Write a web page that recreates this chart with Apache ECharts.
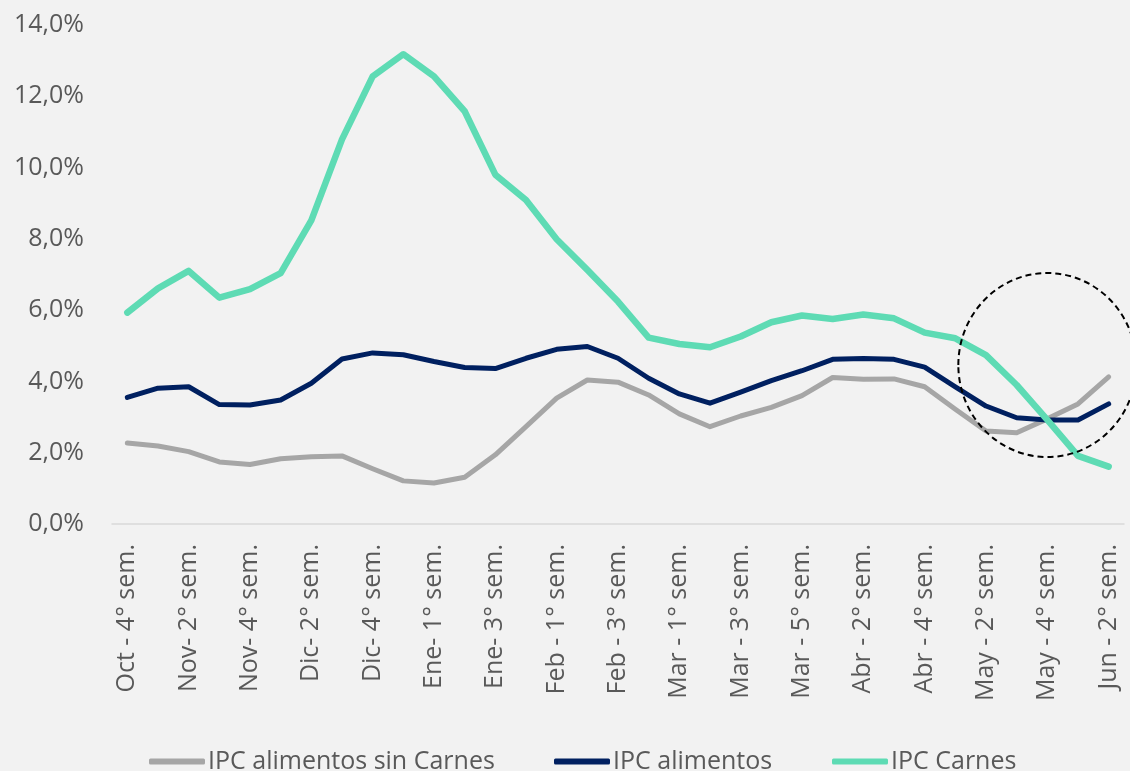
<!DOCTYPE html>
<html>
<head>
<meta charset="utf-8">
<script src="https://cdn.jsdelivr.net/npm/echarts@6/dist/echarts.min.js"></script>
<style>
html,body{margin:0;padding:0;background:#F2F2F2;}
#chart{width:1130px;height:771px;}
</style>
</head>
<body>
<div id="chart"></div>
<script>
const categories = [
  'Oct - 4° sem.','Nov- 1° sem.','Nov- 2° sem.','Nov- 3° sem.','Nov- 4° sem.',
  'Dic- 1° sem.','Dic- 2° sem.','Dic- 3° sem.','Dic- 4° sem.','Dic- 5° sem.',
  'Ene- 1° sem.','Ene- 2° sem.','Ene- 3° sem.','Ene- 4° sem.',
  'Feb - 1° sem.','Feb - 2° sem.','Feb - 3° sem.','Feb - 4° sem.',
  'Mar - 1° sem.','Mar - 2° sem.','Mar - 3° sem.','Mar - 4° sem.','Mar - 5° sem.',
  'Abr - 1° sem.','Abr - 2° sem.','Abr - 3° sem.','Abr - 4° sem.',
  'May - 1° sem.','May - 2° sem.','May - 3° sem.','May - 4° sem.',
  'Jun - 1° sem.','Jun - 2° sem.'
];
const ipcSinCarnes = [2.27, 2.19, 2.03, 1.74, 1.67, 1.83, 1.89, 1.91, 1.55, 1.21, 1.15, 1.31, 1.94, 2.73, 3.53, 4.04, 3.98, 3.62, 3.09, 2.73, 3.03, 3.27, 3.60, 4.11, 4.06, 4.07, 3.85, 3.22, 2.61, 2.56, 2.95, 3.37, 4.13];
const ipcAlimentos = [3.55, 3.81, 3.85, 3.35, 3.34, 3.48, 3.95, 4.63, 4.80, 4.75, 4.56, 4.39, 4.36, 4.65, 4.90, 4.98, 4.65, 4.09, 3.65, 3.39, 3.70, 4.02, 4.30, 4.62, 4.64, 4.62, 4.40, 3.85, 3.31, 2.98, 2.92, 2.92, 3.37];
const ipcCarnes = [5.93, 6.61, 7.10, 6.35, 6.59, 7.04, 8.52, 10.79, 12.56, 13.18, 12.56, 11.58, 9.80, 9.09, 7.99, 7.13, 6.24, 5.23, 5.05, 4.96, 5.26, 5.66, 5.85, 5.75, 5.88, 5.77, 5.37, 5.21, 4.74, 3.90, 2.92, 1.91, 1.61];
const seriesNames = ['IPC alimentos sin Carnes', 'IPC alimentos', 'IPC Carnes'];
const seriesColors = ['#A6A6A6', '#002060', '#5EDBB4'];

const FONT = '"Open Sans", sans-serif';
const TXT = '#595959';

const chart = echarts.init(document.getElementById('chart'), null, {renderer: 'canvas'});

function legendFor(name, left) {
  return {
    data: [name], left: left, top: 744, icon: 'roundRect',
    itemWidth: 56, itemHeight: 6, itemGap: 0,
    textStyle: {color: TXT, fontSize: 25, fontFamily: FONT, padding: [0, 0, 0, -2]}
  };
}

const option = {
  backgroundColor: '#F2F2F2',
  animation: false,
  grid: {left: 112, right: 6, top: 25, bottom: 247, containLabel: false},
  legend: [
    legendFor(seriesNames[0], 144),
    legendFor(seriesNames[1], 549),
    legendFor(seriesNames[2], 827)
  ],
  xAxis: {
    type: 'category', data: categories, boundaryGap: true,
    axisLine: {show: true, lineStyle: {color: '#D9D9D9', width: 1.5}},
    axisTick: {show: false},
    axisLabel: {interval: 1, rotate: 90, margin: 20, color: TXT, fontSize: 25, fontFamily: FONT}
  },
  yAxis: {
    type: 'value', min: 0, max: 14, interval: 2,
    axisLine: {show: false}, axisTick: {show: false}, splitLine: {show: false},
    axisLabel: {margin: 28, color: TXT, fontSize: 25, fontFamily: FONT,
      formatter: v => v.toFixed(1).replace('.', ',') + '%'}
  },
  series: [
    {name: seriesNames[0], type: 'line', data: ipcSinCarnes, showSymbol: false, symbol: 'none',
     lineStyle: {color: seriesColors[0], width: 5, cap: 'round', join: 'round'}, itemStyle: {color: seriesColors[0]}},
    {name: seriesNames[1], type: 'line', data: ipcAlimentos, showSymbol: false, symbol: 'none',
     lineStyle: {color: seriesColors[1], width: 5, cap: 'round', join: 'round'}, itemStyle: {color: seriesColors[1]}},
    {name: seriesNames[2], type: 'line', data: ipcCarnes, showSymbol: false, symbol: 'none',
     lineStyle: {color: seriesColors[2], width: 6.5, cap: 'round', join: 'round'}, itemStyle: {color: seriesColors[2]}}
  ]
};
chart.setOption(option);

const c = chart.convertToPixel({gridIndex: 0}, [29.7, 4.46]);
chart.setOption({
  graphic: [{
    type: 'ellipse', shape: {cx: c[0], cy: c[1], rx: 89, ry: 92}, z: 100,
    style: {fill: 'none', stroke: '#000', lineWidth: 2, lineDash: [6, 4]}
  }]
});
</script>
</body>
</html>
